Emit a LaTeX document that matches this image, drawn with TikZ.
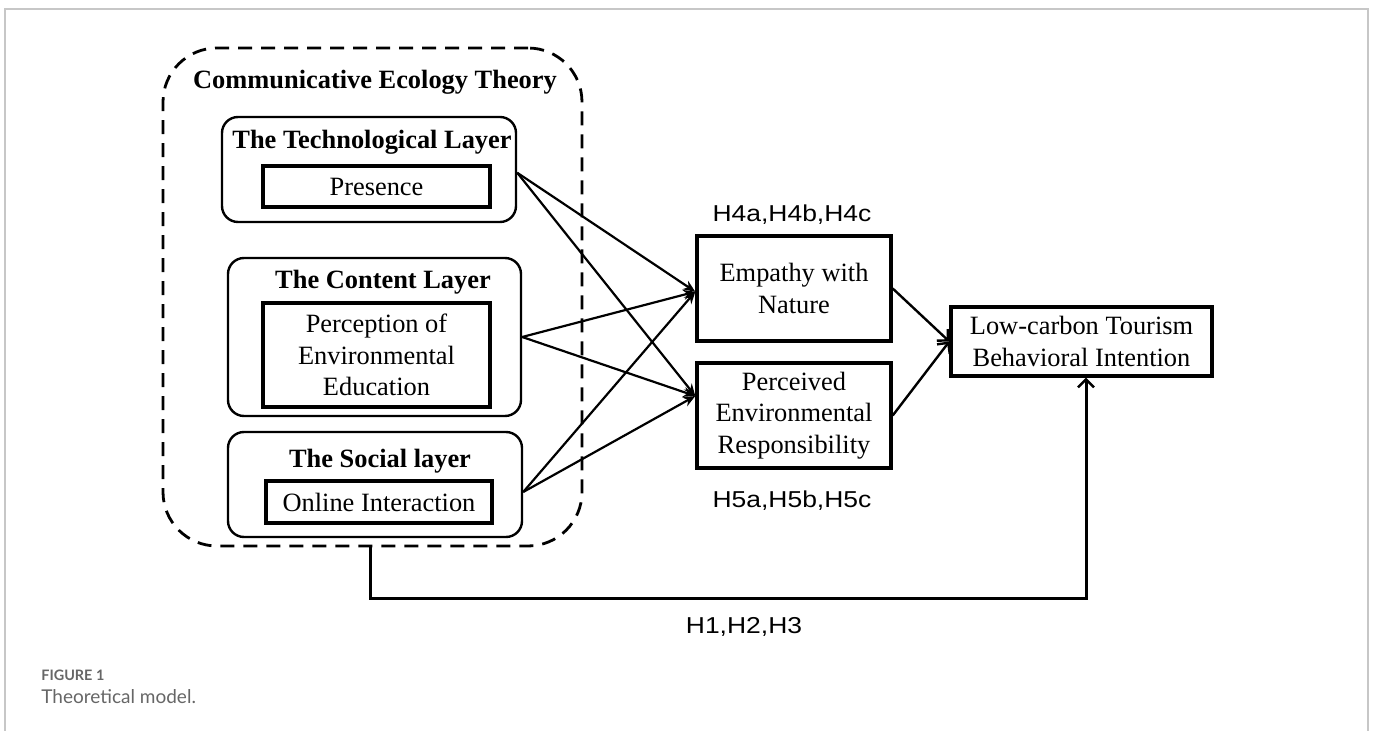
\documentclass[tikz,border=0pt]{standalone}
\usepackage{fontspec}
\setmainfont{Liberation Serif}
\setsansfont{Liberation Sans}
\newfontfamily\capfont{Lato}
\usetikzlibrary{arrows.meta,fit,calc}
\begin{document}
\begin{tikzpicture}[x=0.5pt,y=-0.5pt,
  txt/.style={font=\fontsize{13.2}{15.75}\selectfont, align=center, inner sep=0},
  ttl/.style={font=\bfseries\fontsize{13.2}{15.75}\selectfont, inner sep=0, anchor=base},
  hyp/.style={font=\sffamily\fontsize{11.5}{14}\selectfont, inner sep=0, anchor=base},
  outerbox/.style={draw, line width=1.4pt, dash pattern=on 7pt off 4.5pt, rounded corners=27pt, inner sep=0},
  layerbox/.style={draw, line width=1.2pt, rounded corners=8pt, inner sep=0},
  varbox/.style={draw, line width=1.9pt, inner sep=0},
  medbox/.style={draw, line width=1.7pt, inner sep=0},
  link/.style={line width=1.1pt, -{Stealth[length=6pt,width=5pt]}},
  barb/.style={line width=1.2pt, -{Straight Barb[length=4pt,width=8pt,line width=1.2pt]}},
  frameline/.style={draw=black!22, line width=1pt},
  capt/.style={text=black!60, inner sep=0, anchor=base west}
]
\useasboundingbox (0,0) rectangle (1375,731);
\draw[frameline] (5,731) -- (5,9) -- (1368,9) -- (1368,731);

% outer dashed container
\node[outerbox, fit={(163,48) (582,546)}] (cet) {};
\node[ttl] (cettitle) at (375,89) {Communicative Ecology Theory};

% layers
\node[layerbox, fit={(222,117) (516,222)}] (tech) {};
\node[ttl] (techtitle) at (372,149) {The Technological Layer};
\node[varbox, fit={(263,166) (490,207)}] (pres) {};
\node[txt] (prestext) at (pres.center) {Presence};

\node[layerbox, fit={(228,258) (521,416)}] (cont) {};
\node[ttl] (conttitle) at (383,289) {The Content Layer};
\node[varbox, fit={(263,303) (490,407)}] (peee) {};
\node[txt] (peeetext) at (peee.center) {Perception of\\Environmental\\Education};

\node[layerbox, fit={(228,432) (522,537)}] (soc) {};
\node[ttl] (soctitle) at (380,468) {The Social layer};
\node[varbox, fit={(266,481) (492,523)}] (onl) {};
\node[txt] (onltext) at (onl.center) {Online Interaction};

% mediators
\node[medbox, fit={(697,236) (891,341)}] (emp) {};
\node[txt] (emptext) at (emp.center) {Empathy with\\Nature};
\node[medbox, fit={(697,363) (891,468)}] (per) {};
\node[txt] (pertext) at (per.center) {Perceived\\Environmental\\Responsibility};
\node[medbox, fit={(951,307) (1212,376)}] (lct) {};
\node[txt] (lcttext) at (lct.center) {Low-carbon Tourism\\Behavioral Intention};

% hypothesis labels
\node[hyp] (h4) at (792,222) {\scalebox{1.15}[1]{H4a,H4b,H4c}};
\node[hyp] (h5) at (792,508) {\scalebox{1.15}[1]{H5a,H5b,H5c}};
\node[hyp] (h1) at (744,633) {\scalebox{1.15}[1]{H1,H2,H3}};

% connector anchors
\coordinate (empin) at ($(emp.north west)!0.53!(emp.south west)$);
\coordinate (perin) at ($(per.north west)!0.32!(per.south west)$);
\coordinate (techout) at ($(tech.north east)!0.53!(tech.south east)$);
\coordinate (socout) at ($(soc.north east)!0.57!(soc.south east)$);

\draw[link] (techout) -- (empin);
\draw[link] (techout) -- (perin);
\draw[link] (cont.east) -- (empin);
\draw[link] (cont.east) -- (perin);
\draw[link] (socout) -- (empin);
\draw[link] (socout) -- (perin);

\draw[barb] (emp.east) -- (lct.west);
\draw[barb] (per.east) -- (lct.west);

\coordinate (lctin) at ($(lct.south)+(4.5,0)$);
\draw[barb, line width=1.5pt] ($(cet.south)+(-2.5,0)$) |- (1086,598) -- (lctin);

% caption
\node[capt, font=\capfont\bfseries\fontsize{7.2}{9}\selectfont] (fig) at (41,680) {FIGURE 1};
\node[capt, font=\capfont\fontsize{9.5}{11}\selectfont] (cap) at (41,703) {Theoretical model.};
\end{tikzpicture}
\end{document}
